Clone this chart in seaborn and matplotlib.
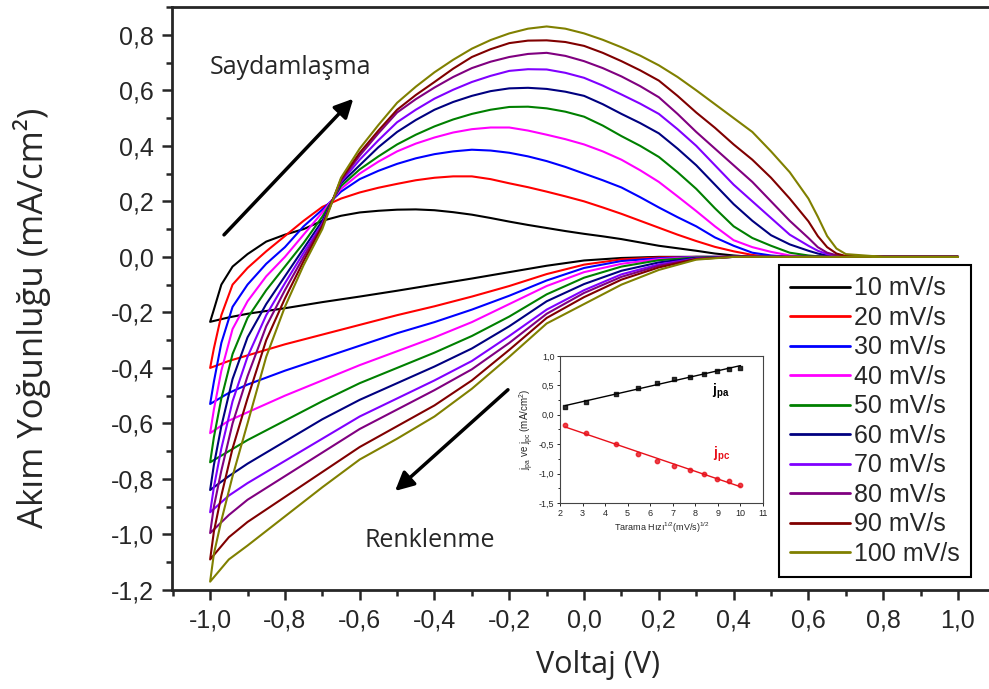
import numpy as np
import pandas as pd
import matplotlib
matplotlib.use("Agg")
import matplotlib.pyplot as plt
from matplotlib.ticker import MultipleLocator, FuncFormatter
import seaborn as sns

# --- main CV data ---
rates = ["10 mV/s", "20 mV/s", "30 mV/s", "40 mV/s", "50 mV/s",
         "60 mV/s", "70 mV/s", "80 mV/s", "90 mV/s", "100 mV/s"]
colors = ["#000000", "#FF0000", "#0000FF", "#FF00FF", "#008000",
          "#000080", "#8000FF", "#800080", "#800000", "#808000"]

# cathodic sweep, 1.0 V -> -1.0 V
v_down = [1.0, 0.4, 0.3, 0.2, 0.1, 0.0, -0.1, -0.2, -0.3, -0.4, -0.5, -0.6,
          -0.7, -0.8, -0.9, -0.95, -1.0]
down_10 = [0, 0, 0, 0, -0.004, -0.013, -0.032, -0.055, -0.078, -0.10, -0.122, -0.143,
           -0.163, -0.185, -0.205, -0.218, -0.234]
down_20 = [0, 0, 0, -0.002, -0.009, -0.028, -0.062, -0.105, -0.143, -0.178, -0.21, -0.245,
           -0.28, -0.315, -0.355, -0.375, -0.40]
down_30 = [0, 0, 0, -0.005, -0.015, -0.04, -0.085, -0.14, -0.19, -0.235, -0.275, -0.32,
           -0.365, -0.41, -0.46, -0.49, -0.53]
down_40 = [0, 0, -0.001, -0.008, -0.025, -0.055, -0.105, -0.17, -0.235, -0.29, -0.34, -0.39,
           -0.445, -0.50, -0.56, -0.59, -0.635]
down_50 = [0, 0, -0.002, -0.012, -0.035, -0.075, -0.135, -0.215, -0.285, -0.345, -0.40, -0.455,
           -0.52, -0.59, -0.66, -0.70, -0.74]
down_60 = [0, 0, -0.004, -0.02, -0.05, -0.098, -0.16, -0.25, -0.33, -0.395, -0.455, -0.515,
           -0.585, -0.665, -0.745, -0.79, -0.84]
down_70 = [0, 0, -0.006, -0.027, -0.063, -0.12, -0.19, -0.285, -0.375, -0.445, -0.51, -0.575,
           -0.655, -0.735, -0.815, -0.86, -0.92]
down_80 = [0, 0, -0.007, -0.032, -0.072, -0.13, -0.205, -0.31, -0.405, -0.48, -0.55, -0.62,
           -0.705, -0.79, -0.875, -0.93, -0.995]
down_90 = [0, 0, -0.008, -0.038, -0.082, -0.145, -0.22, -0.335, -0.445, -0.535, -0.61, -0.685,
           -0.775, -0.865, -0.955, -1.01, -1.09]
down_100 = [0, 0, -0.01, -0.047, -0.10, -0.17, -0.24, -0.36, -0.475, -0.575, -0.655, -0.73,
            -0.83, -0.935, -1.04, -1.09, -1.17]

# anodic sweep, -1.0 V -> 1.0 V
v_up = [-1.0, -0.99, -0.97, -0.94, -0.90, -0.85, -0.80, -0.75, -0.70, -0.65, -0.60,
        -0.55, -0.50, -0.45, -0.40, -0.35, -0.30, -0.25, -0.20, -0.15, -0.10, -0.05,
        0.00, 0.05, 0.10, 0.15, 0.20, 0.25, 0.30, 0.35, 0.40, 0.45, 0.50, 0.55,
        0.60, 0.625, 0.65, 0.675, 0.70, 0.80, 1.00]
up_10 = [-0.234, -0.19, -0.10, -0.035, 0.01, 0.055, 0.08, 0.10, 0.13, 0.148, 0.16,
         0.166, 0.17, 0.171, 0.168, 0.161, 0.152, 0.14, 0.127, 0.115, 0.104, 0.093,
         0.083, 0.074, 0.064, 0.052, 0.04, 0.031, 0.022, 0.012, 0.005, 0, 0, 0,
         0, 0, 0, 0, 0, 0, 0]
up_20 = [-0.40, -0.33, -0.21, -0.10, -0.04, 0.02, 0.075, 0.13, 0.18, 0.21, 0.232,
         0.249, 0.263, 0.276, 0.285, 0.29, 0.29, 0.28, 0.265, 0.251, 0.235, 0.218,
         0.20, 0.178, 0.155, 0.13, 0.105, 0.08, 0.057, 0.036, 0.02, 0.007, 0, 0,
         0, 0, 0, 0, 0, 0, 0]
up_30 = [-0.53, -0.45, -0.31, -0.18, -0.10, -0.025, 0.035, 0.11, 0.17, 0.235, 0.28,
         0.31, 0.335, 0.355, 0.37, 0.38, 0.386, 0.383, 0.375, 0.362, 0.345, 0.324,
         0.30, 0.276, 0.25, 0.215, 0.178, 0.143, 0.11, 0.07, 0.04, 0.015, 0.005, 0,
         0, 0, 0, 0, 0, 0, 0]
up_40 = [-0.635, -0.55, -0.41, -0.26, -0.16, -0.07, 0.0, 0.08, 0.16, 0.245, 0.30,
         0.343, 0.38, 0.408, 0.43, 0.448, 0.46, 0.466, 0.466, 0.455, 0.44, 0.424,
         0.405, 0.38, 0.35, 0.312, 0.27, 0.218, 0.165, 0.11, 0.06, 0.035, 0.018, 0.005,
         0, 0, 0, 0, 0, 0, 0]
up_50 = [-0.74, -0.65, -0.51, -0.35, -0.22, -0.12, -0.035, 0.05, 0.145, 0.255, 0.315,
         0.362, 0.405, 0.44, 0.47, 0.495, 0.515, 0.53, 0.54, 0.541, 0.535, 0.523,
         0.505, 0.473, 0.435, 0.40, 0.36, 0.305, 0.245, 0.175, 0.11, 0.068, 0.04, 0.015,
         0.005, 0.002, 0, 0, 0, 0, 0]
up_60 = [-0.84, -0.75, -0.61, -0.44, -0.29, -0.17, -0.07, 0.03, 0.13, 0.265, 0.33,
         0.395, 0.45, 0.493, 0.53, 0.558, 0.58, 0.597, 0.607, 0.609, 0.605, 0.595,
         0.58, 0.55, 0.515, 0.482, 0.445, 0.39, 0.33, 0.26, 0.19, 0.13, 0.078, 0.045,
         0.022, 0.012, 0.005, 0.002, 0, 0, 0]
up_70 = [-0.92, -0.83, -0.69, -0.52, -0.36, -0.21, -0.095, 0.015, 0.12, 0.27, 0.35,
         0.42, 0.485, 0.53, 0.57, 0.602, 0.63, 0.652, 0.67, 0.676, 0.675, 0.663,
         0.645, 0.617, 0.585, 0.552, 0.515, 0.46, 0.40, 0.33, 0.26, 0.20, 0.14, 0.08,
         0.04, 0.022, 0.01, 0.004, 0, 0, 0]
up_80 = [-0.995, -0.90, -0.77, -0.60, -0.43, -0.25, -0.12, 0.0, 0.115, 0.275, 0.365,
         0.445, 0.52, 0.568, 0.61, 0.648, 0.68, 0.703, 0.72, 0.731, 0.735, 0.724,
         0.705, 0.68, 0.65, 0.615, 0.575, 0.515, 0.45, 0.39, 0.33, 0.27, 0.20, 0.13,
         0.068, 0.035, 0.015, 0.006, 0.002, 0, 0]
up_90 = [-1.09, -0.99, -0.86, -0.69, -0.51, -0.30, -0.15, -0.015, 0.11, 0.28, 0.375,
         0.455, 0.53, 0.583, 0.63, 0.678, 0.72, 0.748, 0.77, 0.779, 0.78, 0.774,
         0.76, 0.735, 0.705, 0.672, 0.635, 0.58, 0.52, 0.465, 0.405, 0.35, 0.285, 0.21,
         0.128, 0.075, 0.035, 0.012, 0.003, 0, 0]
up_100 = [-1.17, -1.07, -0.95, -0.79, -0.60, -0.36, -0.18, -0.03, 0.10, 0.285, 0.39,
          0.475, 0.555, 0.613, 0.665, 0.71, 0.75, 0.781, 0.805, 0.822, 0.83, 0.822,
          0.805, 0.782, 0.755, 0.725, 0.69, 0.648, 0.60, 0.55, 0.50, 0.45, 0.38, 0.305,
          0.21, 0.145, 0.075, 0.03, 0.01, 0, 0]

downs = [down_10, down_20, down_30, down_40, down_50, down_60, down_70, down_80, down_90, down_100]
ups = [up_10, up_20, up_30, up_40, up_50, up_60, up_70, up_80, up_90, up_100]

# --- inset data ---
sqrt_rate = [2.24, 3.16, 4.47, 5.48, 6.32, 7.07, 7.75, 8.37, 8.94, 9.49, 10.0]
j_pa = [0.13, 0.22, 0.36, 0.46, 0.54, 0.60, 0.65, 0.70, 0.74, 0.78, 0.80]
j_pc = [-0.18, -0.31, -0.50, -0.66, -0.78, -0.87, -0.94, -1.01, -1.09, -1.13, -1.19]

rows = []
for rate, dn, up in zip(rates, downs, ups):
    for v, j in zip(v_down + v_up, dn + up):
        rows.append({"V": v, "j": j, "rate": rate})
df = pd.DataFrame(rows)

sns.set_style("ticks")
plt.rcParams["font.family"] = ["Liberation Sans", "DejaVu Sans"]
plt.rcParams["mathtext.fontset"] = "custom"
plt.rcParams["mathtext.rm"] = "Liberation Sans"
plt.rcParams["mathtext.bf"] = "Liberation Sans:bold"

fig = plt.figure(figsize=(9.89, 6.89), dpi=100)
ax = fig.add_axes([0.1739, 0.1437, 0.825, 0.8461])

sns.lineplot(data=df, x="V", y="j", hue="rate", hue_order=rates, palette=colors,
             sort=False, estimator=None, linewidth=1.5, ax=ax)

ax.set_xlim(-1.102, 1.080)
ax.set_ylim(-1.2, 0.9)
ax.xaxis.set_major_locator(MultipleLocator(0.2))
ax.xaxis.set_minor_locator(MultipleLocator(0.1))
ax.yaxis.set_major_locator(MultipleLocator(0.2))
ax.yaxis.set_minor_locator(MultipleLocator(0.1))

def comma(v, pos):
    if abs(v) < 1e-9:
        v = 0.0
    return f"{v:.1f}".replace(".", ",")

ax.xaxis.set_major_formatter(FuncFormatter(comma))
ax.yaxis.set_major_formatter(FuncFormatter(comma))
ax.tick_params(which="major", direction="out", length=7, width=1.8, labelsize=18, pad=6)
ax.tick_params(which="minor", direction="out", length=4, width=1.8)
for side in ["left", "bottom", "top"]:
    ax.spines[side].set_linewidth(2.0)
ax.spines["right"].set_visible(False)
ax.set_xlabel("")
ax.set_ylabel("")

fig.text(598 / 989, 1 - 665 / 689, "Voltaj (V)", family=["Open Sans", "DejaVu Sans"],
         fontsize=22, ha="center", va="center")
fig.text(32 / 989, 1 - 318 / 689, "Akım Yoğunluğu (mA/cm²)", family=["Open Sans", "DejaVu Sans"],
         fontsize=25, rotation=90, ha="center", va="center")

# arrows and labels
ax.annotate("", xy=(-0.612, 0.577), xytext=(-0.968, 0.072),
            arrowprops=dict(arrowstyle="-|>", lw=2.5, color="black", mutation_scale=28))
ax.annotate("", xy=(-0.511, -0.85), xytext=(-0.198, -0.472),
            arrowprops=dict(arrowstyle="-|>", lw=2.5, color="black", mutation_scale=28))
ax.text(-0.786, 0.681, "Saydamlaşma", family=["Open Sans", "DejaVu Sans"], fontsize=18,
        ha="center", va="center")
ax.text(-0.412, -1.023, "Renklenme", family=["Open Sans", "DejaVu Sans"], fontsize=18,
        ha="center", va="center")

handles, labels = ax.get_legend_handles_labels()
leg = ax.legend(handles, labels, loc="lower right", bbox_to_anchor=(971 / 989, 112 / 689),
                bbox_transform=fig.transFigure, borderaxespad=0, fontsize=18,
                frameon=True, fancybox=False, edgecolor="black", framealpha=1,
                handlelength=2.4, handletextpad=0.15, labelspacing=0.22, borderpad=0.45)
leg.get_frame().set_linewidth(1.5)
for line in leg.get_lines():
    line.set_linewidth(2.0)

# inset
axin = fig.add_axes([0.5662, 0.27, 0.2053, 0.2134])
sns.regplot(x=sqrt_rate, y=j_pa, ci=None, marker="s", color="black",
            scatter_kws={"s": 10}, line_kws={"lw": 1.0}, ax=axin)
sns.regplot(x=sqrt_rate, y=j_pc, ci=None, marker="o", color="#E8101A",
            scatter_kws={"s": 10}, line_kws={"lw": 1.0}, ax=axin)
axin.set_xlim(2, 11)
axin.set_ylim(-1.5, 1.0)
axin.xaxis.set_major_locator(MultipleLocator(1))
axin.yaxis.set_major_locator(MultipleLocator(0.5))
axin.yaxis.set_minor_locator(MultipleLocator(0.25))
axin.yaxis.set_major_formatter(FuncFormatter(comma))
axin.tick_params(which="major", direction="out", length=2.5, width=0.7, labelsize=6.5, pad=1.5)
axin.tick_params(which="minor", direction="out", length=1.5, width=0.7)
for s in axin.spines.values():
    s.set_linewidth(0.8)
    s.set_color("#444444")
axin.set_xlabel("Tarama Hızı$^{1/2}$(mV/s)$^{1/2}$", fontsize=6.5, labelpad=2)
axin.set_ylabel("j$_{\\mathrm{pa}}$ ve j$_{\\mathrm{pc}}$ (mA/cm$^{2}$)", fontsize=7, labelpad=2)
axin.text(9.15, 0.39, "j$_{\\mathbf{pa}}$", fontsize=10, fontweight="bold", color="black",
          ha="center", va="center")
axin.text(9.15, -0.67, "j$_{\\mathbf{pc}}$", fontsize=10, fontweight="bold", color="#E8101A",
          ha="center", va="center")

fig.savefig("out.png", dpi=100)
